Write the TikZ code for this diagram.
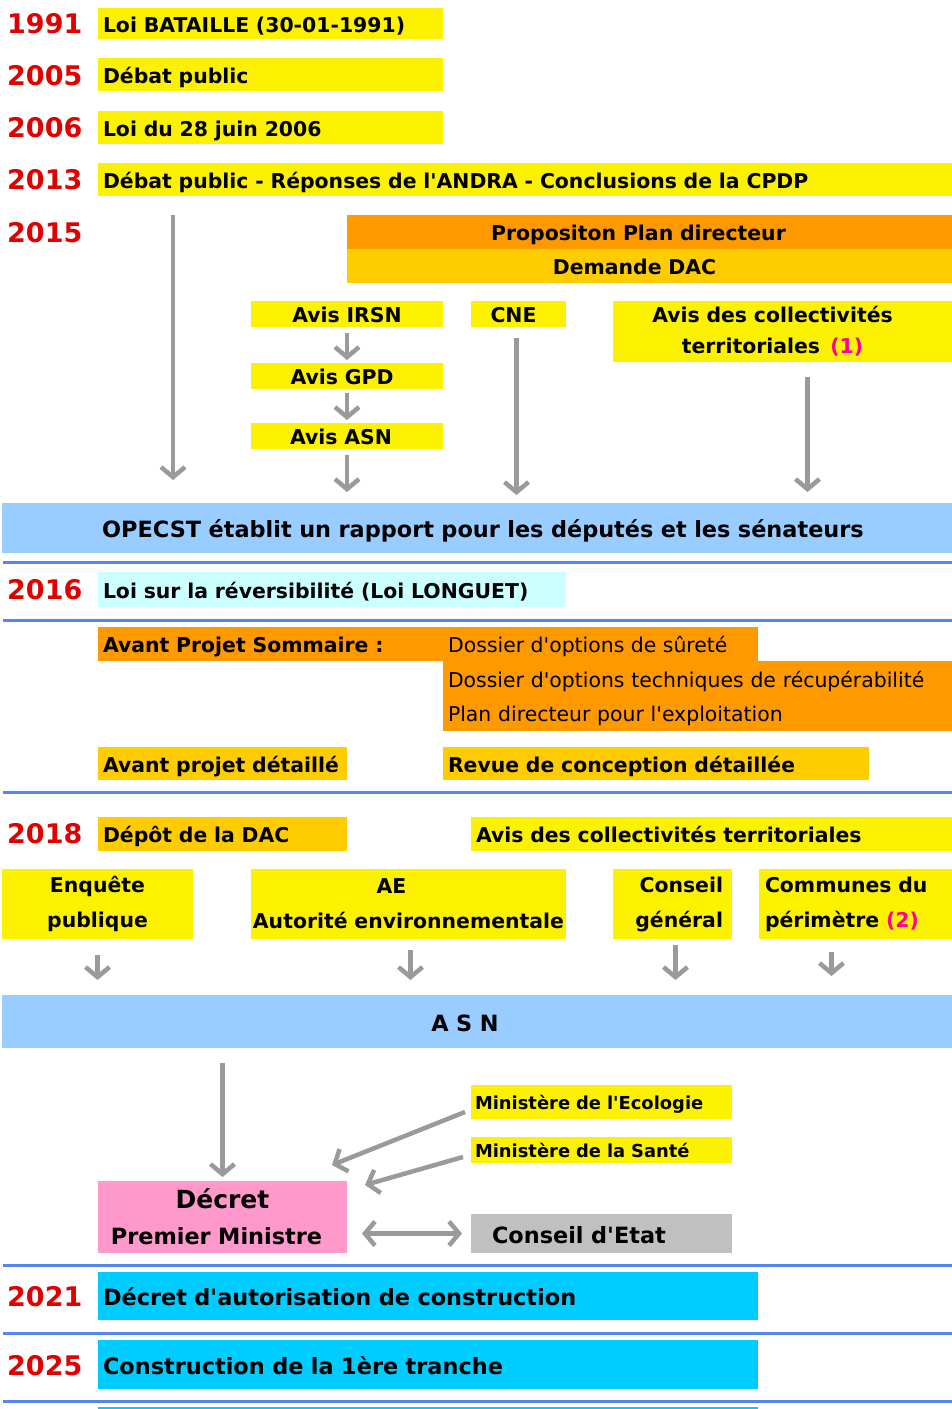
\documentclass[tikz,border=0pt]{standalone}
\usepackage{fontspec}
\setmainfont{DejaVu Sans}[Ligatures=TeXOff]
\usepackage{tikz}
\usetikzlibrary{arrows.meta}
\definecolor{jaune}{HTML}{FCF200}
\definecolor{orange}{HTML}{FF9900}
\definecolor{or}{HTML}{FFCC00}
\definecolor{bleuclair}{HTML}{99CCFF}
\definecolor{cyanclair}{HTML}{CCFFFF}
\definecolor{cyanfonce}{HTML}{00CCFF}
\definecolor{rose}{HTML}{FF99CC}
\definecolor{grisbox}{HTML}{C0C0C0}
\definecolor{trait}{HTML}{5585F0}
\definecolor{annee}{HTML}{E00000}
\definecolor{renvoi}{HTML}{FF0099}
\definecolor{fleche}{HTML}{9A9A9A}
\newcommand\fontbox{\fontsize{20.4}{24}\selectfont\bfseries}
\newcommand\fontbig{\fontsize{22.4}{26}\selectfont\bfseries}
\newcommand\fontyear{\fontsize{27}{32}\selectfont\bfseries}

\begin{document}
\begin{tikzpicture}[x=1pt,y=1pt,
  base/.style={anchor=north west, inner xsep=5pt, inner ysep=0pt, outer sep=0pt, font=\fontbox},
  box/.style={base, align=left, text height=19pt, text depth=1.5pt},
  cbox/.style={base, align=center, text height=19pt, text depth=1.5pt},
  mbox/.style={base, align=center},
  yr/.style={anchor=west, inner sep=0pt, font=\fontyear, text=annee},
  fl/.style={draw=fleche, line width=4.5pt, -{Straight Barb[length=10pt,width=24pt,line width=4.5pt]}},
  fl2/.style={draw=fleche, line width=4.5pt, {Straight Barb[length=10pt,width=24pt,line width=4.5pt]}-{Straight Barb[length=10pt,width=24pt,line width=4.5pt]}},
  sep/.style={draw=trait, line width=3pt}]
\useasboundingbox (0,0) rectangle (952,-1409);
\fill[white] (0,0) rectangle (952,-1409);

\node[yr] (y1991) at (7,-24) {1991};
\node[yr] (y2005) at (7,-76) {2005};
\node[yr] (y2006) at (7,-128) {2006};
\node[yr] (y2013) at (7,-180) {2013};
\node[yr] (y2015) at (7,-233) {2015};
\node[box, fill=jaune, text width=335pt, minimum height=31pt] (bataille) at (98,-8) {Loi BATAILLE (30-01-1991)};
\node[box, fill=jaune, text width=335pt, minimum height=33pt] (debat) at (98,-58) {Débat public};
\node[box, fill=jaune, text width=335pt, minimum height=33pt] (loi06) at (98,-111) {Loi du 28 juin 2006};
\node[box, fill=jaune, text width=844pt, minimum height=33pt] (debat13) at (98,-163) {Débat public - Réponses de l'ANDRA - Conclusions de la CPDP};

\node[cbox, fill=orange, text width=595pt, minimum height=34pt] (propo) at (347,-215) {\hspace*{-22pt}Propositon Plan directeur};
\node[cbox, fill=or, text width=595pt, minimum height=34pt] (dac) at (347,-249) {\hspace*{-30pt}Demande DAC};
\node[cbox, fill=jaune, text width=182pt, minimum height=26pt] (irsn) at (251,-301) {Avis IRSN};
\node[cbox, fill=jaune, text width=85pt, minimum height=26pt] (cne) at (471,-301) {\hspace*{-10pt}CNE};
\node[mbox, fill=jaune, text width=329pt, minimum height=61pt, font=\fontsize{20.4}{31}\selectfont\bfseries] (coll) at (613,-301) {\hspace*{-20pt}Avis des collectivités\\\hspace*{-20pt}territoriales\enspace{\color{renvoi}(1)}};
\node[cbox, fill=jaune, text width=182pt, minimum height=26pt] (gpd) at (251,-363) {\hspace*{-10pt}Avis GPD};
\node[cbox, fill=jaune, text width=182pt, minimum height=26pt] (avisasn) at (251,-423) {\hspace*{-12pt}Avis ASN};
\node[cbox, fill=bleuclair, text width=940pt, minimum height=50pt, font=\fontbig, text height=21pt] (opecst) at (2,-503) {\hspace*{12pt}OPECST établit un rapport pour les députés et les sénateurs};

\coordinate (colg) at (173,0);
\draw[fl, shorten <=19pt, shorten >=23pt] (debat13.south -| colg) -- (opecst.north -| colg);
\draw[fl, shorten <=6pt, shorten >=3pt] (irsn) -- (gpd);
\draw[fl, shorten <=4pt, shorten >=3pt] (gpd) -- (avisasn);
\draw[fl, shorten <=6pt, shorten >=11pt] (avisasn.south) -- (opecst.north -| avisasn.south);
\draw[fl, shorten <=11pt, shorten >=8pt] ([xshift=-2pt]cne.south) -- ([xshift=-2pt]opecst.north -| cne.south);
\draw[fl, shorten <=15pt, shorten >=11pt] ([xshift=25pt]coll.south) -- ([xshift=25pt]opecst.north -| coll.south);

\draw[sep] (3,-562) -- (952,-562);
\node[yr] (y2016) at (7,-590) {2016};
\node[box, fill=cyanclair, text width=458pt, minimum height=35pt] (longuet) at (98,-572) {Loi sur la réversibilité (Loi LONGUET)};
\draw[sep] (3,-620) -- (952,-620);

\node[box, fill=orange, text width=650pt, minimum height=34pt] (aps) at (98,-627) {Avant Projet Sommaire :};
\node[base, align=left, fill=orange, text width=499pt, minimum height=70pt, font=\fontsize{20.4}{34}\selectfont] (dossiers) at (443,-661) {\rule{0pt}{22pt}Dossier d'options techniques de récupérabilité\\Plan directeur pour l'exploitation};
\node[anchor=west, inner xsep=5pt, font=\fontsize{20.4}{24}\selectfont, text height=19pt, text depth=1.5pt] (surete) at (443,-644) {Dossier d'options de sûreté};
\node[box, fill=or, text width=239pt, minimum height=33pt] (apd) at (98,-747) {Avant projet détaillé};
\node[box, fill=or, text width=416pt, minimum height=33pt] (revue) at (443,-747) {Revue de conception détaillée};
\draw[sep] (3,-792) -- (952,-792);

\node[yr] (y2018) at (7,-834) {2018};
\node[box, fill=or, text width=239pt, minimum height=34pt] (depot) at (98,-817) {Dépôt de la DAC};
\node[box, fill=jaune, text width=471pt, minimum height=34pt] (avis18) at (471,-817) {Avis des collectivités territoriales};
\node[mbox, fill=jaune, text width=181pt, minimum height=70pt, font=\fontsize{20.4}{35}\selectfont\bfseries] (enquete) at (2,-869) {Enquête\\publique};
\node[mbox, fill=jaune, inner xsep=0pt, text width=315pt, minimum height=70pt, font=\fontsize{20.4}{35}\selectfont\bfseries] (ae) at (251,-869) {\hspace*{-34pt}AE\\Autorité~environnementale};
\node[mbox, align=right, inner xsep=9pt, text width=101pt, minimum height=70pt, fill=jaune, font=\fontsize{20.4}{35}\selectfont\bfseries] (cg) at (613,-869) {Conseil\\général};
\node[mbox, align=left, inner xsep=6pt, text width=181pt, minimum height=70pt, fill=jaune, font=\fontsize{20.4}{35}\selectfont\bfseries] (communes) at (759,-869) {Communes du\\périmètre {\color{renvoi}(2)}};
\node[cbox, fill=bleuclair, text width=940pt, minimum height=53pt, font=\fontbig, text height=21pt] (asn) at (2,-995) {\hspace*{-24pt}A S N};

\draw[fl, shorten <=16pt, shorten >=15pt] (enquete.south) -- (asn.north -| enquete.south);
\draw[fl, shorten <=11pt, shorten >=15pt] ([xshift=2pt]ae.south) -- ([xshift=2pt]asn.north -| ae.south);
\draw[fl, shorten <=6pt, shorten >=15pt] ([xshift=3pt]cg.south) -- ([xshift=3pt]asn.north -| cg.south);
\draw[fl, shorten <=13pt, shorten >=19pt] ([xshift=-24pt]communes.south) -- ([xshift=-24pt]asn.north -| communes.south);

\node[box, fill=jaune, inner xsep=4pt, text width=253pt, minimum height=34pt, font=\fontsize{17.9}{21}\selectfont\bfseries, text height=17pt] (ecologie) at (471,-1085) {Ministère de l'Ecologie};
\node[box, fill=jaune, inner xsep=4pt, text width=253pt, minimum height=26pt, font=\fontsize{17.9}{21}\selectfont\bfseries, text height=17pt] (sante) at (471,-1137) {Ministère de la Santé};
\node[mbox, fill=rose, text width=239pt, minimum height=72pt, font=\fontsize{22.4}{36}\selectfont\bfseries] (decret) at (98,-1181) {{\fontsize{25}{30}\selectfont Décret}\\\hspace*{-12pt}Premier Ministre};
\node[box, fill=grisbox, inner xsep=21pt, text width=219pt, minimum height=39pt, font=\fontbig, text height=21pt] (etat) at (471,-1214) {Conseil d'Etat};

\draw[fl, shorten <=15pt, shorten >=4pt] (asn.south -| decret.north) -- (decret.north);
\draw[fl] ([shift={(-6pt,-10pt)}]ecologie.west) -- ([shift={(-15pt,16pt)}]decret.north east);
\draw[fl] ([shift={(-8pt,-7pt)}]sante.west) -- ([shift={(18pt,-4pt)}]decret.north east);
\draw[fl2, shorten <=15pt, shorten >=9pt] (decret.east |- etat.west) -- (etat.west);

\draw[sep] (3,-1265) -- (952,-1265);
\node[yr] (y2021) at (7,-1297) {2021};
\node[box, fill=cyanfonce, text width=650pt, minimum height=48pt, font=\fontbig, text height=21pt] (autorisation) at (98,-1272) {Décret d'autorisation de construction};
\draw[sep] (3,-1333) -- (952,-1333);
\node[yr] (y2025) at (7,-1366) {2025};
\node[box, fill=cyanfonce, text width=650pt, minimum height=49pt, font=\fontbig, text height=21pt] (tranche) at (98,-1340) {Construction de la 1ère tranche};
\draw[sep] (3,-1401) -- (952,-1401);
\fill[cyanfonce] (98,-1407) rectangle (758,-1409);
\end{tikzpicture}
\end{document}
